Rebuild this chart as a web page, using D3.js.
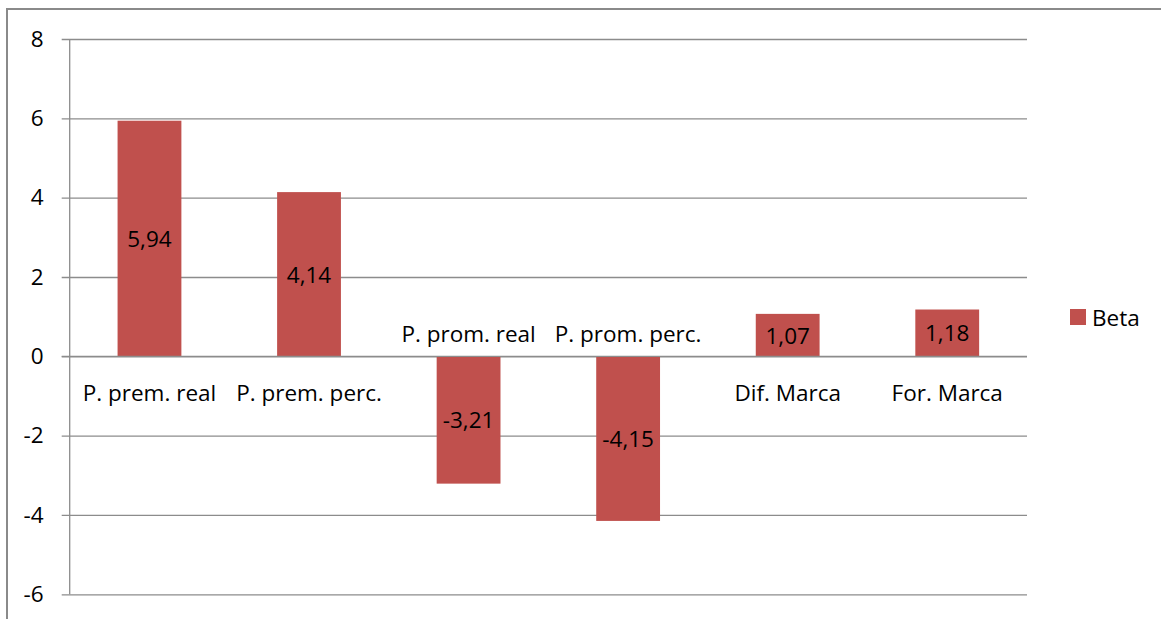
<!DOCTYPE html>
<html>
<head>
<meta charset="utf-8">
<script src="https://cdn.jsdelivr.net/npm/d3@7"></script>
<style>
  html, body { margin: 0; padding: 0; background: #fff; }
  svg { display: block; }
  text { font-family: "Open Sans", Lato, sans-serif; fill: #000; }
</style>
</head>
<body>
<svg id="chart" width="1161" height="619"></svg>
<script>
// Coefficients per variable
const categories = ["P. prem. real", "P. prem. perc.", "P. prom. real", "P. prom. perc.", "Dif. Marca", "For. Marca"];
const betaValues = [5.94, 4.14, -3.21, -4.15, 1.07, 1.18];
const yTicks = [-6, -4, -2, 0, 2, 4, 6, 8];
const seriesName = "Beta";

const svg = d3.select("#chart");
const W = 1161, H = 619;
const plot = { left: 69.7, right: 1027, top: 39, bottom: 594.3 };
const barColor = "#C0504D";
const gridColor = "#8c8c8c";
const fontSize = "22.5px";

// outer chart frame
svg.append("rect")
  .attr("x", 7).attr("y", 9)
  .attr("width", W + 10).attr("height", H + 10)
  .attr("fill", "none").attr("stroke", "#8a8a8a").attr("stroke-width", 2);

const y = d3.scaleLinear().domain([-6, 8]).range([plot.bottom, plot.top]);
const x = d3.scaleBand().domain(categories)
  .range([plot.left, plot.right]).paddingInner(0.6).paddingOuter(0.3);

// horizontal gridlines with small tick marks on the left
const yAxis = d3.axisLeft(y).tickValues(yTicks)
  .tickSize(-(plot.right - plot.left)).tickPadding(20)
  .tickFormat(d => d3.format("d")(d).replace("−", "-"));
const gy = svg.append("g").attr("transform", `translate(${plot.left},0)`).call(yAxis);
gy.select(".domain").remove();
gy.selectAll(".tick line")
  .attr("x1", -8)
  .attr("stroke", gridColor).attr("stroke-width", 1.3);
gy.selectAll(".tick text")
  .attr("x", -26)
  .style("font-family", "'Open Sans', sans-serif").style("font-size", fontSize).attr("fill", "#000");

// vertical axis line
svg.append("line")
  .attr("x1", plot.left).attr("x2", plot.left)
  .attr("y1", plot.top).attr("y2", plot.bottom)
  .attr("stroke", gridColor).attr("stroke-width", 1.3);

const data = categories.map((c, i) => ({ c, v: betaValues[i] }));

// bars
svg.append("g").selectAll("rect").data(data).join("rect")
  .attr("x", d => x(d.c))
  .attr("width", x.bandwidth())
  .attr("y", d => Math.min(y(d.v), y(0)))
  .attr("height", d => Math.abs(y(d.v) - y(0)))
  .attr("fill", barColor);

// zero line drawn above bars
svg.append("line")
  .attr("x1", plot.left - 8).attr("x2", plot.right)
  .attr("y1", y(0)).attr("y2", y(0))
  .attr("stroke", gridColor).attr("stroke-width", 1.3);

// value labels centred in each bar
const fmt = v => d3.format(".2f")(v).replace("−", "-").replace(".", ",");
svg.append("g").selectAll("text").data(data).join("text")
  .attr("x", d => x(d.c) + x.bandwidth() / 2)
  .attr("y", d => (y(d.v) + y(0)) / 2)
  .attr("text-anchor", "middle").attr("dominant-baseline", "central")
  .style("font-size", fontSize)
  .text(d => fmt(d.v));

// category labels next to the zero line, opposite side of the bar
svg.append("g").selectAll("text").data(data).join("text")
  .attr("x", d => x(d.c) + x.bandwidth() / 2)
  .attr("y", d => d.v >= 0 ? y(0) + 36 : y(0) - 23)
  .attr("text-anchor", "middle").attr("dominant-baseline", "central")
  .style("font-size", fontSize)
  .text(d => d.c);

// legend
const lg = svg.append("g").attr("transform", "translate(1070,309)");
lg.append("rect").attr("width", 16).attr("height", 16).attr("fill", barColor);
lg.append("text").attr("x", 22).attr("y", 8)
  .attr("dominant-baseline", "central").style("font-size", fontSize).text(seriesName);
</script>
</body>
</html>
